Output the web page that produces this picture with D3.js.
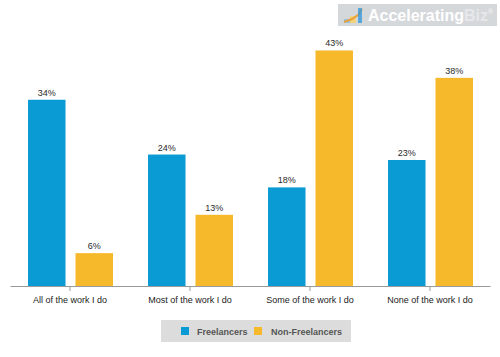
<!DOCTYPE html>
<html><head><meta charset="utf-8">
<script src="https://cdn.jsdelivr.net/npm/d3@7"></script>
<style>html,body{margin:0;padding:0;background:#fff;}svg{display:block;font-family:"Liberation Sans",Arial,sans-serif;}</style>
</head><body>
<svg id="c" width="500" height="357"></svg>
<script>
const categories = ["All of the work I do","Most of the work I do","Some of the work I do","None of the work I do"];
const seriesNames = ["Freelancers","Non-Freelancers"];
const freelancers = [34,24,18,23];
const nonFreelancers = [6,13,43,38];
const colors = ["#0a9bd4","#f6b92b"];

const svg = d3.select("#c");
const x = d3.scaleBand().domain(categories).range([10,490]).padding(0);
const sub = d3.scaleBand().domain(seriesNames).range([18,103]).paddingInner(0.21);
const y = d3.scaleLinear().domain([0,45]).range([286,39.5]);

// logo
const logo = svg.append("g");
logo.append("rect").attr("x",338).attr("y",4).attr("width",159).attr("height",22).attr("fill","#d5d8db");
const ic = logo.append("g");
ic.append("rect").attr("x",344).attr("y",19).attr("width",6).attr("height",4).attr("fill","#8fc3e8");
ic.append("rect").attr("x",350).attr("y",16).attr("width",6).attr("height",7).attr("fill","#f3d27a");
ic.append("path").attr("d","M344 22 L352 19 L358 15 L362 9").attr("stroke","#e9a23b").attr("stroke-width",2).attr("fill","none");
ic.append("rect").attr("x",358).attr("y",8).attr("width",4).attr("height",15).attr("fill","#3a9ad8").attr("opacity",0.8);
const lt = logo.append("text").attr("x",368).attr("y",21).attr("font-size",16).attr("font-weight","bold").attr("fill","#ffffff");
lt.append("tspan").text("Accelerating");
lt.append("tspan").attr("fill","#e6e8ea").text("Biz");
lt.append("tspan").attr("fill","#eef0f1").attr("font-size",7).attr("dy",-7).text("®");

// bars
const data = categories.map((c,i)=>({cat:c, vals:[freelancers[i], nonFreelancers[i]]}));
const g = svg.append("g");
const grp = g.selectAll("g.cat").data(data).join("g").attr("class","cat").attr("transform",d=>`translate(${x(d.cat)},0)`);
grp.selectAll("rect").data(d=>d.vals.map((v,j)=>({v, s:seriesNames[j], j})))
  .join("rect")
  .attr("x",d=>sub(d.s)).attr("width",sub.bandwidth())
  .attr("y",d=>y(d.v)).attr("height",d=>y(0)-y(d.v))
  .attr("fill",d=>colors[d.j]);
grp.selectAll("text").data(d=>d.vals.map((v,j)=>({v, s:seriesNames[j], j})))
  .join("text")
  .attr("x",d=>sub(d.s)+sub.bandwidth()/2).attr("y",d=>y(d.v)-4)
  .attr("text-anchor","middle").attr("font-size",9).attr("fill","#2a2a2a")
  .text(d=>d.v+"%");

// axis
const ax = svg.append("g").attr("transform","translate(0,286)")
  .call(d3.axisBottom(x).tickSize(5).tickSizeOuter(0));
ax.select(".domain").attr("stroke","#9a9a9a");
ax.selectAll(".tick line").attr("stroke","#9a9a9a");
ax.selectAll(".tick text").attr("font-size",9).attr("fill","#222").attr("font-family","Liberation Sans, Arial, sans-serif").attr("dy","0.95em");

// legend
const lg = svg.append("g");
lg.append("rect").attr("x",161).attr("y",320).attr("width",190).attr("height",22).attr("fill","#dcdcdc");
const items = [{n:seriesNames[0],sx:181,tx:197},{n:seriesNames[1],sx:254,tx:271}];
items.forEach((it,i)=>{
  lg.append("rect").attr("x",it.sx).attr("y",327).attr("width",8).attr("height",8).attr("fill",colors[i]);
  lg.append("text").attr("x",it.tx).attr("y",334.5).attr("font-size",9).attr("font-weight","bold").attr("fill","#555").text(it.n);
});
</script>
</body></html>
